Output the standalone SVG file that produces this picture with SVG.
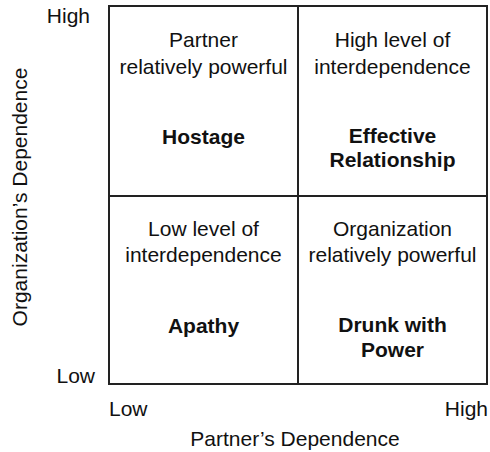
<svg xmlns="http://www.w3.org/2000/svg" width="490" height="452" viewBox="0 0 490 452">
<style>
text{font-family:"Liberation Sans",Arial,sans-serif;font-size:21px;fill:#111}
.c{text-anchor:middle}
.b{font-weight:bold}
.ln{stroke:#222;stroke-width:2;fill:none}
</style>
<rect x="0" y="0" width="490" height="452" fill="#fff"/>
<g id="grid">
<rect class="ln" x="109" y="6" width="378" height="378"/>
<line class="ln" x1="298" y1="6" x2="298" y2="384"/>
<line class="ln" x1="109" y1="196" x2="487" y2="196"/>
</g>
<g id="q-hostage">
<text class="c" x="203.5" y="47">Partner</text>
<text class="c" x="203.5" y="74">relatively powerful</text>
<text class="c b" x="203.5" y="144">Hostage</text>
</g>
<g id="q-effective">
<text class="c" x="392.5" y="47">High level of</text>
<text class="c" x="392.5" y="74">interdependence</text>
<text class="c b" x="392.5" y="143">Effective</text>
<text class="c b" x="392.5" y="167">Relationship</text>
</g>
<g id="q-apathy">
<text class="c" x="203.5" y="236">Low level of</text>
<text class="c" x="203.5" y="262">interdependence</text>
<text class="c b" x="203.5" y="333">Apathy</text>
</g>
<g id="q-drunk">
<text class="c" x="392.5" y="236">Organization</text>
<text class="c" x="392.5" y="262">relatively powerful</text>
<text class="c b" x="392.5" y="332">Drunk with</text>
<text class="c b" x="392.5" y="357">Power</text>
</g>
<g id="axes">
<text x="90" y="23" text-anchor="end">High</text>
<text x="95" y="383" text-anchor="end">Low</text>
<text x="109" y="416">Low</text>
<text x="488" y="416" text-anchor="end">High</text>
<text class="c" x="295" y="446">Partner’s Dependence</text>
<text class="c" transform="translate(27,197) rotate(-90)">Organization’s Dependence</text>
</g>
</svg>
